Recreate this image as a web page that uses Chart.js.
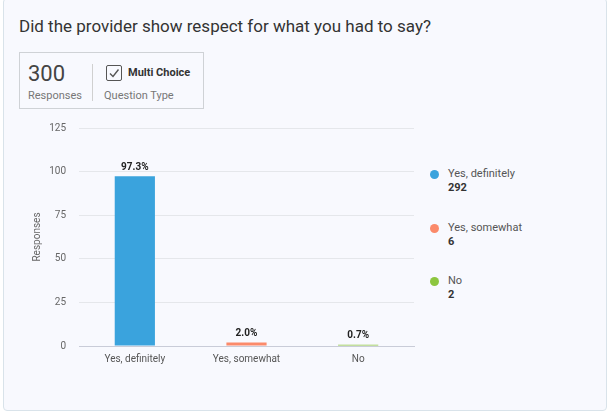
<!DOCTYPE html>
<html>
<head>
<meta charset="utf-8">
<script src="https://cdn.jsdelivr.net/npm/chart.js@4"></script>
<style>
  html,body{margin:0;padding:0;background:#fff;}
  body{width:610px;height:414px;position:relative;font-family:Roboto,"Noto Sans",sans-serif;overflow:hidden;}
  .card{position:absolute;left:3px;top:-2px;width:602px;height:411px;background:#f8f9fe;border:1px solid #d9e3ea;border-radius:4px;}
  .title{position:absolute;left:19px;top:16px;font-size:17px;color:#333;}
  .info{position:absolute;left:19px;top:52px;width:185px;height:57px;border:1px solid #cfd2d6;box-sizing:border-box;}
  .num{position:absolute;left:8px;top:8px;font-size:22px;color:#444;}
  .lbl{position:absolute;font-size:11px;color:#777;}
  .div{position:absolute;left:72px;top:11px;width:1px;height:37px;background:#d0d0d0;}
  .chk{position:absolute;left:86px;top:12px;width:14px;height:14px;border:1.5px solid #555;border-radius:2px;}
  .mc{position:absolute;left:108px;top:13px;font-size:11px;font-weight:bold;color:#333;}
  .chartbox{position:absolute;left:0;top:0;width:420px;height:414px;}
  .legend{position:absolute;left:430px;top:0;}
  .li{position:absolute;left:0;width:150px;}
  .dot{position:absolute;left:0;top:3px;width:9px;height:9px;border-radius:50%;}
  .lt{position:absolute;left:18px;top:0;font-size:11px;color:#555;white-space:nowrap;}
  .lc{position:absolute;left:18px;top:14px;font-size:11px;font-weight:bold;color:#333;}
</style>
</head>
<body>
<div class="card"></div>
<div class="title">Did the provider show respect for what you had to say?</div>
<div class="info">
  <div class="num">300</div>
  <div class="lbl" style="left:8px;top:36px;">Responses</div>
  <div class="div"></div>
  <div class="chk"><svg width="14" height="14" viewBox="0 0 14 14" style="position:absolute;left:0;top:0"><path d="M3 7.5 L6 10.5 L11.5 3.5" stroke="#555" stroke-width="1.4" fill="none"/></svg></div>
  <div class="mc">Multi Choice</div>
  <div class="lbl" style="left:84px;top:36px;">Question Type</div>
</div>
<div class="chartbox"><canvas id="c"></canvas></div>
<div class="legend" id="legend"></div>
<script>
const categories = ["Yes, definitely", "Yes, somewhat", "No"];
const percents = [97.3, 2.0, 0.7];
const counts = [292, 6, 2];
const colors = ["#3aa3dd", "#fb8a6a", "#8dc63f"];
const yTicks = [0, 25, 50, 75, 100, 125];

// legend
const lg = document.getElementById('legend');
const legendTops = [167, 221, 274];
categories.forEach((c,i)=>{
  const d = document.createElement('div');
  d.className='li'; d.style.top = legendTops[i]+'px';
  d.innerHTML = `<div class="dot" style="background:${colors[i]}"></div><div class="lt">${c}</div><div class="lc">${counts[i]}</div>`;
  lg.appendChild(d);
});

const labelPlugin = {
  id:'vals',
  afterDatasetsDraw(chart){
    const ctx = chart.ctx;
    const meta = chart.getDatasetMeta(0);
    ctx.save();
    ctx.font = 'bold 10px Roboto';
    ctx.fillStyle = '#222';
    ctx.textAlign = 'center';
    ctx.textBaseline = 'bottom';
    meta.data.forEach((bar,i)=>{
      ctx.fillText(percents[i].toFixed(1)+'%', bar.x, bar.y - 4);
    });
    ctx.restore();
  }
};

new Chart(document.getElementById('c'), {
  type:'bar',
  data:{labels:categories, datasets:[{data:percents, backgroundColor:colors, borderWidth:0, barPercentage:0.45, categoryPercentage:0.8}]},
  options:{
    responsive:true, maintainAspectRatio:false, animation:false,
    layout:{padding:{top:128,right:6,left:0,bottom:0}},
    plugins:{legend:{display:false}, tooltip:{enabled:false}},
    scales:{
      x:{grid:{display:false, drawTicks:false}, border:{color:'#c9ccd8'},
         ticks:{color:'#555', font:{size:10, family:'Roboto'}, padding:7},
         afterFit(s){ s.height = 68; }},
      y:{min:0, max:125, afterBuildTicks(s){s.ticks = yTicks.map(v=>({value:v}));},
         grid:{color:'#e5e7eb', drawTicks:false}, border:{display:false},
         ticks:{color:'#666', font:{size:10, family:'Roboto'}, padding:13},
         title:{display:true, text:'Responses', color:'#666', font:{size:10, family:'Roboto'}, padding:{top:31,bottom:0}},
         afterFit(s){ s.width = 79; }}
    }
  },
  plugins:[labelPlugin]
});
</script>
</body>
</html>
